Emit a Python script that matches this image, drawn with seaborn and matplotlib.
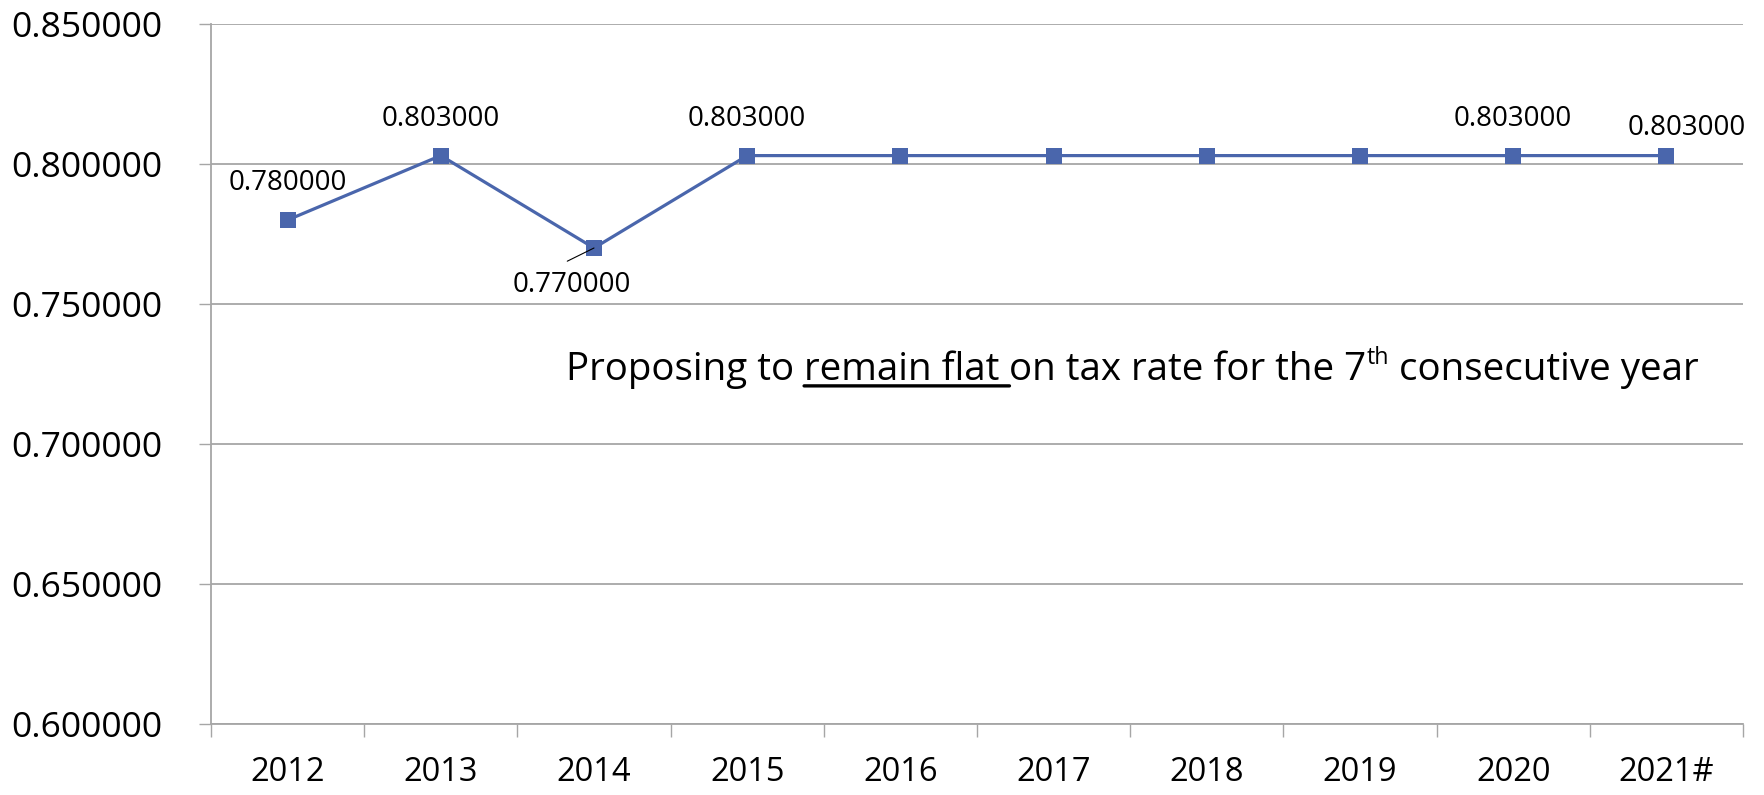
import matplotlib
matplotlib.use('Agg')
import matplotlib.pyplot as plt
import seaborn as sns
import numpy as np

# data
years = ['2012', '2013', '2014', '2015', '2016', '2017', '2018', '2019', '2020', '2021#']
rates = [0.780, 0.803, 0.770, 0.803, 0.803, 0.803, 0.803, 0.803, 0.803, 0.803]
y_ticks = [0.60, 0.65, 0.70, 0.75, 0.80, 0.85]
labelled = ['2012', '2013', '2014', '2015', '2020', '2021#']

sns.set_style('white')
plt.rcParams['font.family'] = ['Open Sans', 'DejaVu Sans']
plt.rcParams['text.color'] = 'black'

line_col = '#4a66ac'
grey = '#a6a6a6'

fig = plt.figure(figsize=(17.65, 7.95), dpi=100)
ax = fig.add_axes([211 / 1765, 71 / 795, 1532 / 1765, 700 / 795])

sns.lineplot(x=years, y=rates, ax=ax, color=line_col, lw=2.3, marker='s',
             markersize=11, markeredgewidth=0, zorder=3)

# axes styling (Excel look)
ax.set_xlim(-0.5, len(years) - 0.5)
ax.set_ylim(y_ticks[0], y_ticks[-1])
ax.set_yticks(y_ticks)
ax.set_yticklabels([f'{t:.6f}' for t in y_ticks])
ax.set_xticks(range(len(years)))
ax.set_xticklabels(years)
ax.set_xticks(np.arange(-0.5, len(years), 1), minor=True)
ax.set_xlabel('')
ax.set_ylabel('')
ax.yaxis.grid(True, color=grey, lw=1.3)
ax.xaxis.grid(False)
for s in ['top', 'right']:
    ax.spines[s].set_visible(False)
for s in ['left', 'bottom']:
    ax.spines[s].set_color(grey)
    ax.spines[s].set_linewidth(1.3)
ax.tick_params(axis='y', left=True, length=9, width=1, color=grey,
               labelsize=25.5, labelcolor='black', pad=26)
ax.tick_params(axis='x', which='major', bottom=True, length=0,
               labelsize=23.5, labelcolor='black', pad=23)
ax.tick_params(axis='x', which='minor', bottom=True, length=9, width=1, color=grey)

# data labels
lab_fs = 20
for yr in labelled:
    i = years.index(yr)
    v = rates[i]
    if yr == '2014':
        ax.annotate(f'{v:.6f}', (i, v), xytext=(-22, -37), textcoords='offset pixels',
                    ha='center', va='center', fontsize=lab_fs, zorder=4,
                    arrowprops=dict(arrowstyle='-', color='black', lw=0.8,
                                    shrinkA=0, shrinkB=0, relpos=(0.46, 1.35)))
    elif yr == '2021#':
        ax.annotate(f'{v:.6f}', (i, v), xytext=(20, 28), textcoords='offset pixels',
                    ha='center', va='center', fontsize=lab_fs)
    else:
        ax.annotate(f'{v:.6f}', (i, v), xytext=(0, 37), textcoords='offset pixels',
                    ha='center', va='center', fontsize=lab_fs)

# note with underline and superscript
fs = 27.7
t1 = ax.text(0.2317, 0.491, 'Proposing to ', transform=ax.transAxes,
             fontsize=fs, va='baseline')
t2 = ax.annotate('remain flat ', xy=(1, 0), xycoords=t1, va='bottom', fontsize=fs)
ax.annotate('', xy=(0, 0.09), xycoords=t2, xytext=(1, 0.09), textcoords=t2,
            arrowprops=dict(arrowstyle='-', lw=2.4, color='black', shrinkA=0, shrinkB=0))
t3 = ax.annotate('on tax rate for the 7', xy=(1, 0), xycoords=t2, va='bottom', fontsize=fs)
t4 = ax.annotate('th', xy=(1, 0.5), xycoords=t3, va='bottom', fontsize=fs * 0.6)
ax.annotate(' consecutive year', xy=(1, 0), xycoords=(t4, t3), va='bottom', fontsize=fs)

fig.savefig('out.png', dpi=100)
